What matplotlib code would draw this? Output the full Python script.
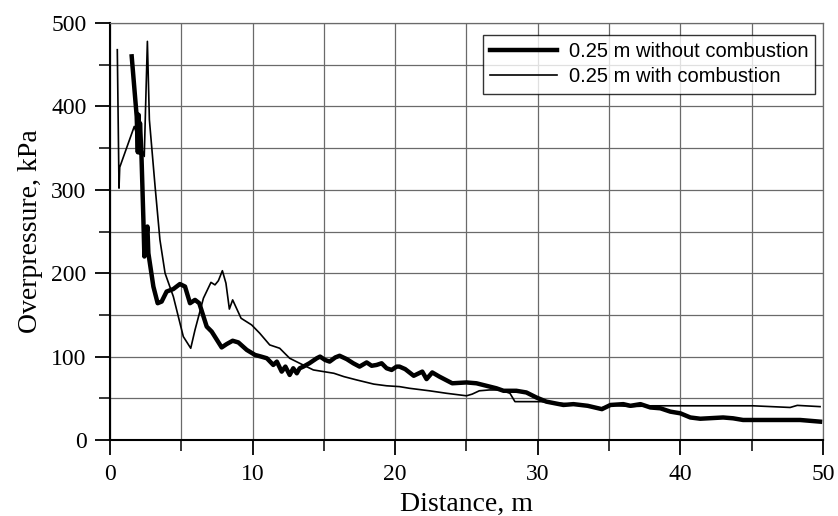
import numpy as np
import matplotlib.pyplot as plt
from matplotlib.ticker import MultipleLocator

# 0.25 m without combustion (thick)
dist_nocomb = [1.52, 1.87, 1.95, 2.0, 2.05, 2.1, 2.2, 2.34, 2.41, 2.62, 2.69,
               3.04, 3.34, 3.62, 3.97, 4.44, 4.9, 5.26, 5.61, 5.96, 6.26, 6.78,
               7.13, 7.83, 8.18, 8.6, 9.0, 9.59, 10.17, 10.6, 11.0, 11.45, 11.7,
               12.04, 12.3, 12.6, 12.85, 13.1, 13.3, 13.56, 13.98, 14.5, 14.73,
               15.08, 15.4, 15.8, 16.1, 16.6, 17.06, 17.5, 18.0, 18.35, 18.7,
               19.05, 19.4, 19.75, 20.1, 20.3, 20.7, 21.3, 21.9, 22.2, 22.6,
               23.1, 24.0, 25.0, 25.7, 26.4, 27.1, 27.6, 28.5, 29.2, 29.9, 30.6,
               31.8, 32.5, 33.5, 34.5, 35.1, 36.0, 36.5, 37.2, 37.9, 38.6, 39.3,
               40.0, 40.7, 41.4, 43.0, 43.7, 44.4, 48.4, 49.8]
press_nocomb = [460, 388, 345, 390, 345, 380, 344, 264, 220, 256, 224,
                184, 164, 166, 178, 181, 187, 184, 164, 168, 164, 136,
                130, 111, 115, 119, 117, 108, 102, 100, 98, 90, 94,
                82, 88, 78, 86, 80, 86, 88, 92, 98, 100,
                96, 94, 99, 101, 97, 92, 88, 93, 89, 90,
                92, 86, 84, 88, 88, 85, 77, 82, 73, 81,
                76, 68, 69, 68, 65, 62, 59, 59, 57, 51, 46,
                42, 43, 41, 37, 42, 43, 41, 43, 39, 38, 34,
                32, 27, 25.5, 27, 26, 24, 24, 22]

# 0.25 m with combustion (thin)
dist_comb = [0.51, 0.63, 0.68, 1.7, 2.4, 2.62, 2.76, 3.16, 3.5, 3.86, 4.44,
             5.14, 5.66, 5.96, 6.55, 7.08, 7.36, 7.6, 7.88, 8.13, 8.37, 8.6,
             9.19, 9.93, 10.5, 11.2, 11.9, 12.6, 13.3, 14.26, 15.7, 16.4, 17.3,
             18.5, 19.4, 20.3, 21.0, 22.4, 23.6, 25.0, 25.4, 25.9, 26.6, 27.35,
             28.05, 28.4, 30.2, 31.6, 33.0, 34.4, 35.1, 36.5, 38.0, 40.0, 45.1,
             47.7, 48.2, 49.8]
press_comb = [468, 302, 327, 376, 340, 478, 384, 304, 240, 200, 172,
              124, 110, 132, 170, 189, 186, 191, 203, 188, 157, 168,
              146, 138, 128, 114, 110, 98, 92, 84, 80, 76, 72,
              67, 65, 64, 62, 59, 56, 53, 55, 59, 60, 60,
              56, 46, 46, 44, 42, 38, 42, 40, 41, 41, 41,
              39, 41.5, 40]

fig = plt.figure(figsize=(8.38, 5.16), dpi=100)
ax = fig.add_axes([0.1313, 0.1473, 0.8507, 0.8081])

ax.plot(dist_nocomb, press_nocomb, color="black", lw=3.2,
        label="0.25 m without combustion")
ax.plot(dist_comb, press_comb, color="black", lw=1.2,
        label="0.25 m with combustion")

ax.set_xlim(0, 50)
ax.set_ylim(0, 500)
ax.xaxis.set_major_locator(MultipleLocator(10))
ax.xaxis.set_minor_locator(MultipleLocator(5))
ax.yaxis.set_major_locator(MultipleLocator(100))
ax.yaxis.set_minor_locator(MultipleLocator(50))
ax.grid(which="both", color="#6a6a6a", lw=0.9)
ax.set_axisbelow(True)

for side in ("top", "right"):
    ax.spines[side].set_color("#6a6a6a")
    ax.spines[side].set_linewidth(0.9)
for side in ("left", "bottom"):
    ax.spines[side].set_linewidth(1.5)

ax.tick_params(which="major", direction="out", length=11, width=1.3,
               labelsize=17, pad=6)
ax.tick_params(which="minor", direction="out", length=8, width=1.1)
for lbl in ax.get_xticklabels() + ax.get_yticklabels():
    lbl.set_fontfamily("Liberation Serif")

ax.set_xlabel("Distance, m", fontsize=20, family="Liberation Serif", labelpad=5)
ax.set_ylabel("Overpressure, kPa", fontsize=20, family="Liberation Serif",
              labelpad=6)

leg = ax.legend(loc="upper right", bbox_to_anchor=(0.995, 0.98),
                prop={"family": "Liberation Sans", "size": 14.5},
                frameon=True, fancybox=False, edgecolor="black",
                handlelength=3.3, handletextpad=0.6, borderpad=0.35,
                labelspacing=0.3, borderaxespad=0.2)
leg.get_frame().set_linewidth(1.0)

fig.savefig("out.png", dpi=100)
